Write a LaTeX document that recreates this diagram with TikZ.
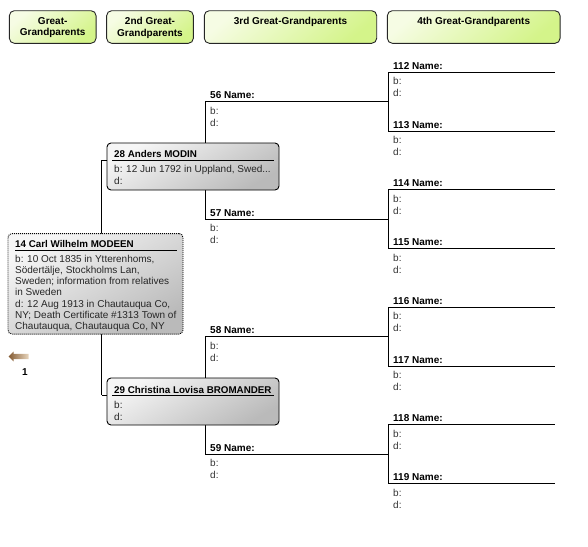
\documentclass[tikz,border=0pt]{standalone}
\usepackage{fontspec}
\setmainfont{Liberation Sans}
\usetikzlibrary{shapes.arrows}
\definecolor{hdrlight}{RGB}{246,252,228}
\definecolor{hdrdark}{RGB}{212,244,138}
\definecolor{boxlight}{RGB}{246,246,246}
\definecolor{boxdark}{RGB}{186,186,186}
\definecolor{arrowdark}{RGB}{132,92,52}
\definecolor{arrowlight}{RGB}{232,214,190}
\begin{document}
\begin{tikzpicture}[
    x=1pt, y=-1pt,
    header/.style={
      rounded corners=5pt,
      draw=black!85,
      line width=0.9pt,
      top color=hdrlight,
      bottom color=hdrdark,
      shading angle=40,
      inner xsep=3pt,
      inner ysep=6.5pt,
      font=\bfseries\fontsize{10}{11.6}\selectfont
    },
    slot/.style={
      anchor=north west,
      inner xsep=5pt,
      inner ysep=5.2pt,
      font=\fontsize{10}{12}\selectfont,
      text=black!80,
      append after command={(\tikzlastnode.north west) edge[link] (\tikzlastnode.north east)}
    },
    slotname/.style={
      anchor=base west,
      inner sep=0pt,
      xshift=5pt,
      yshift=3pt,
      font=\bfseries\fontsize{10}{12}\selectfont
    },
    link/.style={draw=black, line width=0.9pt},
    person/.style={
      rounded corners=4pt,
      draw=black,
      line width=0.9pt,
      top color=boxlight,
      bottom color=boxdark,
      shading angle=30
    },
    pname/.style={anchor=base west, inner sep=0pt, font=\bfseries\fontsize{9.8}{12}\selectfont},
    pinfo/.style={anchor=base west, inner sep=0pt, font=\fontsize{10}{12.5}\selectfont, text=black!85},
    backarrow/.style={
      single arrow,
      shape border rotate=180,
      minimum height=20pt,
      single arrow head extend=2.2pt,
      inner sep=2.5pt,
      left color=arrowdark,
      right color=arrowlight
    }
  ]
    \useasboundingbox (0,0) rectangle (588,546);

    \node[header] (h1) at (52.7,27) {\parbox[t][19.6pt][t]{80.7pt}{\centering Great-\\Grandparents}};
    \node[header] (h2) at (150,27) {\parbox[t][19.6pt][t]{80.7pt}{\centering 2nd Great-\\Grandparents}};
    \node[header] (h3) at (290.5,27) {\parbox[t][19.6pt][t]{166.4pt}{\centering 3rd Great-Grandparents}};
    \node[header] (h4) at (473.7,27) {\parbox[t][19.6pt][t]{166.7pt}{\centering 4th Great-Grandparents}};

    \node[slot, label={[slotname]north west:56 Name:}] (a56) at (205,101.7) {\parbox[t]{173pt}{b:\\d:}};
    \node[slot, label={[slotname]north west:57 Name:}] (a57) at (205,219.2) {\parbox[t]{173pt}{b:\\d:}};
    \node[slot, label={[slotname]north west:58 Name:}] (a58) at (205,336.7) {\parbox[t]{173pt}{b:\\d:}};
    \node[slot, label={[slotname]north west:59 Name:}] (a59) at (205,454.2) {\parbox[t]{173pt}{b:\\d:}};

    \node[slot, label={[slotname]north west:112 Name:}] (a112) at (388,72.3) {\parbox[t]{157pt}{b:\\d:}};
    \node[slot, label={[slotname]north west:113 Name:}] (a113) at (388,131) {\parbox[t]{157pt}{b:\\d:}};
    \node[slot, label={[slotname]north west:114 Name:}] (a114) at (388,189.8) {\parbox[t]{157pt}{b:\\d:}};
    \node[slot, label={[slotname]north west:115 Name:}] (a115) at (388,248.5) {\parbox[t]{157pt}{b:\\d:}};
    \node[slot, label={[slotname]north west:116 Name:}] (a116) at (388,307.3) {\parbox[t]{157pt}{b:\\d:}};
    \node[slot, label={[slotname]north west:117 Name:}] (a117) at (388,366) {\parbox[t]{157pt}{b:\\d:}};
    \node[slot, label={[slotname]north west:118 Name:}] (a118) at (388,424.8) {\parbox[t]{157pt}{b:\\d:}};
    \node[slot, label={[slotname]north west:119 Name:}] (a119) at (388,483.5) {\parbox[t]{157pt}{b:\\d:}};

    \draw[link] (a112.north west) -- (a113.north west);
    \draw[link] (a114.north west) -- (a115.north west);
    \draw[link] (a116.north west) -- (a117.north west);
    \draw[link] (a118.north west) -- (a119.north west);
    \draw[link] (a56.north west) -- (a57.north west);
    \draw[link] (a58.north west) -- (a59.north west);

    \coordinate (j28) at (101.7,160.4);
    \coordinate (j29) at (101.7,395.4);
    \draw[link] (j28) -- (j29);

    \node[person, minimum width=172pt, minimum height=47pt] (p28) at (193,166.5) {};
    \node[person, minimum width=172pt, minimum height=47pt] (p29) at (193,401.5) {};
    \node[person, dash pattern=on 1pt off 1pt, minimum width=175pt, minimum height=100.5pt] (p14) at (95.5,283.8) {};
    \draw[link] (j28) -- (j28 -| p28.west);
    \draw[link] (j29) -- (j29 -| p29.west);

    \node[pname] (n28) at (114,157.6) {28 Anders MODIN};
    \draw[link] (112,160.7) -- (274,160.7);
    \node[pinfo] (i28) at (114,172) {\parbox[t]{160pt}{b: 12 Jun 1792 in Uppland, Swed...\\d:}};

    \node[pname] (n29) at (114,393) {29 Christina Lovisa BROMANDER};
    \draw[link] (112,395.7) -- (274,395.7);
    \node[pinfo] (i29) at (114,408) {\parbox[t]{160pt}{b:\\d:}};

    \node[pname] (n14) at (15,247) {14 Carl Wilhelm MODEEN};
    \draw[link] (15,250.3) -- (177,250.3);
    \node[pinfo, font=\fontsize{10}{11.1}\selectfont] (i14) at (15,262) {\parbox[t]{165pt}{b: 10 Oct 1835 in Ytterenhoms,\\S\"odert\"alje, Stockholms Lan,\\Sweden; information from relatives\\in Sweden\\[0.6pt]d: 12 Aug 1913 in Chautauqua Co,\\NY; Death Certificate \#1313 Town of\\Chautauqua, Chautauqua Co, NY}};

    \node[backarrow] (back) at (20,356.5) {};
    \node[font=\bfseries\fontsize{10}{12}\selectfont] (gen) at (25,372) {1};
  \end{tikzpicture}
\end{document}
